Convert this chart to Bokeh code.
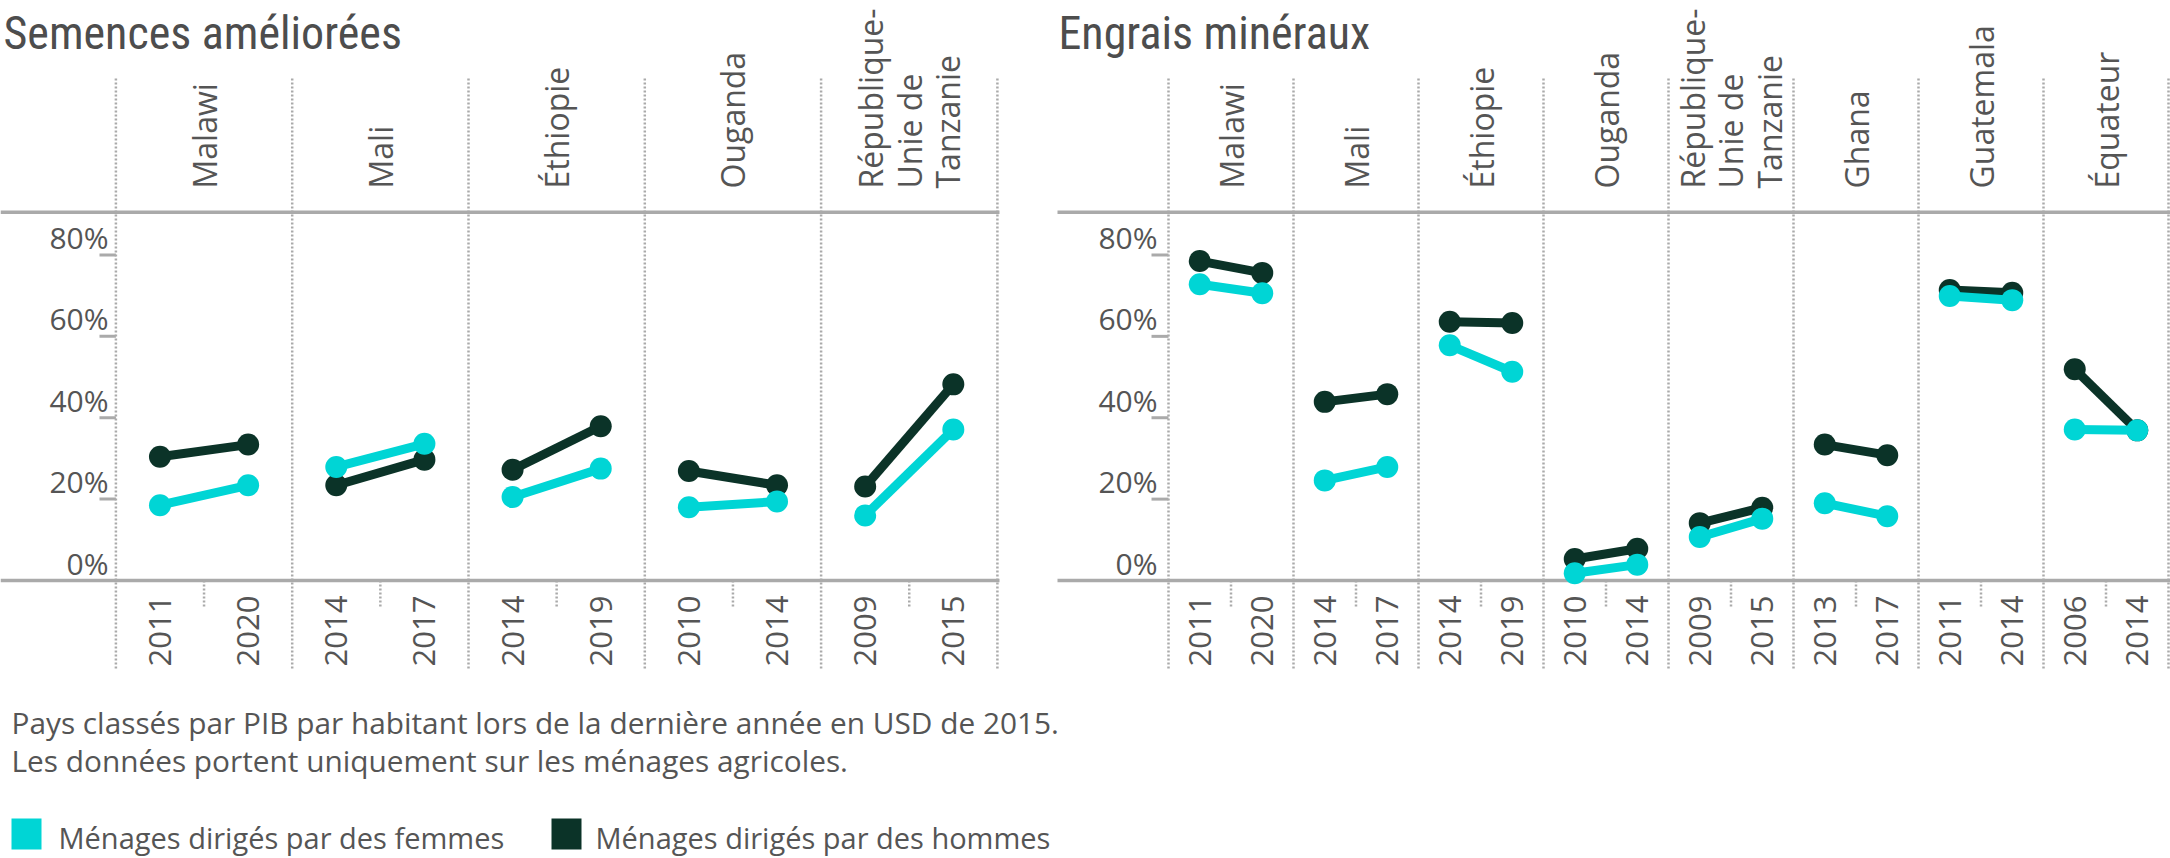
import math
from bokeh.plotting import figure
from bokeh.models import Range1d
from bokeh.core.properties import value
from bokeh.embed import file_html
from bokeh.resources import INLINE

# ---------------- data ----------------
titles = ["Semences améliorées", "Engrais minéraux"]

seed_countries = ["Malawi", "Mali", "Éthiopie", "Ouganda", "République-\nUnie de\nTanzanie"]
seed_years = [["2011", "2020"], ["2014", "2017"], ["2014", "2019"], ["2010", "2014"], ["2009", "2015"]]
seed_women = [[18.5, 23.4], [27.9, 33.6], [20.5, 27.5], [18.0, 19.4], [16.0, 37.1]]
seed_men = [[30.4, 33.4], [23.4, 29.7], [27.2, 37.9], [26.9, 23.4], [23.1, 48.2]]

fert_countries = ["Malawi", "Mali", "Éthiopie", "Ouganda", "République-\nUnie de\nTanzanie",
                  "Ghana", "Guatemala", "Équateur"]
fert_years = [["2011", "2020"], ["2014", "2017"], ["2014", "2019"], ["2010", "2014"],
              ["2009", "2015"], ["2013", "2017"], ["2011", "2014"], ["2006", "2014"]]
fert_women = [[72.8, 70.6], [24.6, 27.9], [57.8, 51.3], [1.8, 3.9], [10.7, 15.2],
              [19.0, 15.8], [69.9, 68.9], [37.1, 36.9]]
fert_men = [[78.5, 75.6], [43.9, 45.8], [63.6, 63.3], [5.3, 7.8], [14.1, 17.9],
            [33.4, 30.8], [71.4, 70.7], [51.9, 36.9]]

y_ticks = [0, 20, 40, 60, 80]
y_tick_labels = ["0%", "20%", "40%", "60%", "80%"]
series_labels = ["Ménages dirigés par des femmes", "Ménages dirigés par des hommes"]
notes = ["Pays classés par PIB par habitant lors de la dernière année en USD de 2015.",
         "Les données portent uniquement sur les ménages agricoles."]

# ---------------- style / layout ----------------
W, H = 2170, 858
C_WOMEN = "#00d5d5"
C_MEN = "#0b3328"
C_TEXT = "#555555"
C_RULE = "#aaaaaa"
FONT = "Open Sans"
TITLE_FONT = "Roboto Condensed"
BASE_ADJ = 0.33  # em shift so that alphabetic baseline lands where wanted

Y0PX, KPX = 580.0, 4.069  # pixel of 0 %, pixels per %


def yv(py):
    return (Y0PX - py) / KPX


def ybase(py, size):
    """data y for a text whose alphabetic baseline should sit at pixel row py"""
    return yv(py - BASE_ADJ * size)


panels = [
    dict(title=titles[0], countries=seed_countries, years=seed_years, women=seed_women, men=seed_men,
         x0=115.4, step=176.3, rng="default", line_start=0, line_end=999, title_x=3,
         tick_x0=99, lab_x=108),
    dict(title=titles[1], countries=fert_countries, years=fert_years, women=fert_women, men=fert_men,
         x0=1168.0, step=125.0, rng="r", line_start=1057, line_end=W, title_x=1058,
         tick_x0=1151, lab_x=1157),
]

pL, pR = panels
p = figure(width=W, height=H, output_backend="svg", toolbar_location=None,
           x_range=Range1d(-pL["x0"] / pL["step"], (W - pL["x0"]) / pL["step"]),
           y_range=Range1d(yv(H), yv(0)),
           x_axis_location=None, y_axis_location=None, min_border=0)
p.extra_x_ranges = {"r": Range1d(-pR["x0"] / pR["step"], (W - pR["x0"]) / pR["step"])}
p.grid.visible = False
p.outline_line_color = None
p.background_fill_color = "white"
p.border_fill_color = "white"

TS, TKS, CS = 46, 30, 32  # title, tick label, category label sizes

for pn in panels:
    rn = pn["rng"]
    n = len(pn["countries"])

    def xv(px, pn=pn):
        return (px - pn["x0"]) / pn["step"]

    # title
    p.text(x=[xv(pn["title_x"])], y=[ybase(47.5, TS)], text=[pn["title"]], x_range_name=rn,
           text_font=value(TITLE_FONT), text_font_size=f"{TS}px", text_color="#4d4d4d",
           text_align="left", text_baseline="alphabetic")

    # horizontal rules (top and baseline)
    p.segment(x0=[xv(pn["line_start"])] * 2, x1=[xv(pn["line_end"])] * 2,
              y0=[yv(211.7), 0], y1=[yv(211.7), 0], x_range_name=rn,
              line_color=C_RULE, line_width=3.5)

    # section separators (dotted)
    ks = list(range(n + 1))
    p.segment(x0=ks, x1=ks, y0=[yv(78)] * len(ks), y1=[yv(668)] * len(ks), x_range_name=rn,
              line_color=C_RULE, line_width=2.5, line_dash="2 2")
    mids = [k + 0.5 for k in range(n)]
    p.segment(x0=mids, x1=mids, y0=[0] * n, y1=[yv(606)] * n, x_range_name=rn,
              line_color=C_RULE, line_width=2.5, line_dash="2 2")

    # y ticks and labels
    tv = y_ticks[1:]
    p.segment(x0=[xv(pn["tick_x0"])] * len(tv), x1=[0] * len(tv), y0=tv, y1=tv, x_range_name=rn,
              line_color=C_RULE, line_width=3)
    p.text(x=[xv(pn["lab_x"])] * len(y_ticks),
           y=[ybase(Y0PX - t * KPX - 7.6, TKS) for t in y_ticks], text=y_tick_labels,
           x_range_name=rn, text_font=value(FONT), text_font_size=f"{TKS}px", text_color=C_TEXT,
           text_align="right", text_baseline="alphabetic")

    # country labels (rotated, reading upwards, starting just above the top rule)
    p.text(x=mids, y=[yv(188)] * n, text=pn["countries"], x_range_name=rn, angle=math.pi / 2,
           text_font=value(FONT), text_font_size=f"{CS}px", text_color=C_TEXT,
           text_align="left", text_baseline="middle", text_line_height=0.9)

    # year labels
    yx, yt = [], []
    for k, yrs in enumerate(pn["years"]):
        for j, yr in enumerate(yrs):
            yx.append(k + 0.25 + 0.5 * j)
            yt.append(yr)
    p.text(x=yx, y=[yv(666)] * len(yx), text=yt, x_range_name=rn, angle=math.pi / 2,
           text_font=value(FONT), text_font_size="31px", text_color=C_TEXT,
           text_align="left", text_baseline="middle")

    # series (men first, women on top)
    for vals, col in ((pn["men"], C_MEN), (pn["women"], C_WOMEN)):
        xs = [[k + 0.25, k + 0.75] for k in range(n)]
        p.multi_line(xs=xs, ys=vals, x_range_name=rn, line_color=col, line_width=9)
        fx = [x for pair in xs for x in pair]
        fy = [v for pair in vals for v in pair]
        p.scatter(x=fx, y=fy, x_range_name=rn, size=22, marker="circle",
                  fill_color=col, line_color=col, line_width=0)

# notes
NS = 29.8
p.text(x=[(11 - pL["x0"]) / pL["step"]] * 2, y=[ybase(731.7, NS), ybase(769.5, NS)], text=notes,
       text_font=value(FONT), text_font_size=f"{NS}px", text_color=C_TEXT,
       text_align="left", text_baseline="alphabetic")

# legend
LS = 29
sq_px = [(11, 41), (551, 581)]
txt_px = [58, 595]
for (a, b), tx, col, lab in zip(sq_px, txt_px, [C_WOMEN, C_MEN], series_labels):
    p.quad(left=[(a - pL["x0"]) / pL["step"]], right=[(b - pL["x0"]) / pL["step"]],
           top=[yv(818)], bottom=[yv(849)], fill_color=col, line_color=None)
    p.text(x=[(tx - pL["x0"]) / pL["step"]], y=[ybase(846.5, LS)], text=[lab],
           text_font=value(FONT), text_font_size=f"{LS}px", text_color=C_TEXT,
           text_align="left", text_baseline="alphabetic")

open("out.html", "w").write(file_html(p, INLINE))
